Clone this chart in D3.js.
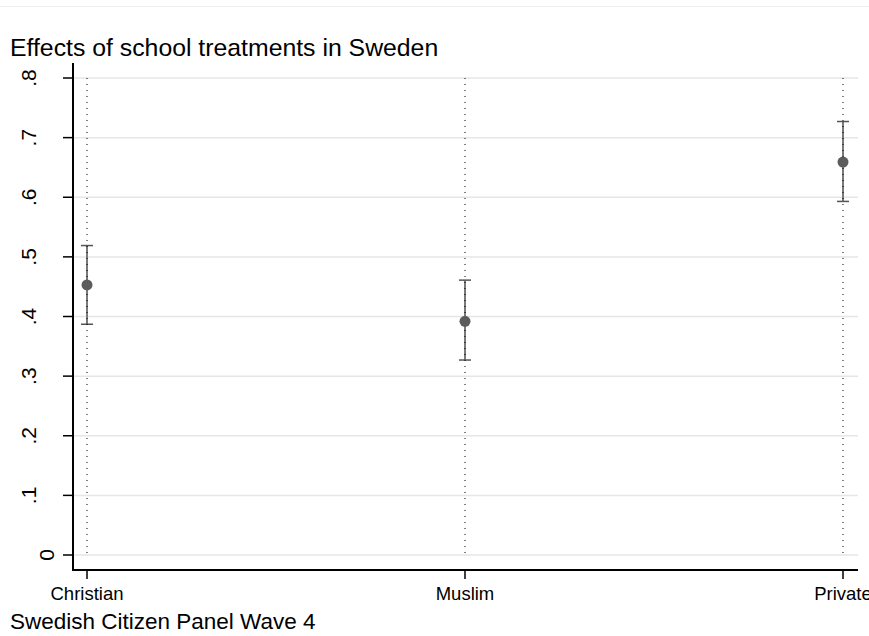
<!DOCTYPE html>
<html>
<head>
<meta charset="utf-8">
<script src="https://cdn.jsdelivr.net/npm/d3@7"></script>
<style>
  html, body { margin: 0; padding: 0; background: #ffffff; }
  svg { display: block; font-family: "Liberation Sans", Arial, Helvetica, sans-serif; }
</style>
</head>
<body>
<svg id="chart" width="869" height="636"></svg>
<script>
// Treatment groups and estimated effects with 95% confidence bounds
const categories = ["Christian", "Muslim", "Private"];
const estimates  = [0.453, 0.392, 0.659];
const lowerCI    = [0.387, 0.327, 0.593];
const upperCI    = [0.519, 0.461, 0.727];
const yTicks     = [0, 0.1, 0.2, 0.3, 0.4, 0.5, 0.6, 0.7, 0.8];
const yTickLabels = ["0", ".1", ".2", ".3", ".4", ".5", ".6", ".7", ".8"];

const titleText = "Effects of school treatments in Sweden";
const noteText  = "Swedish Citizen Panel Wave 4";

const svg = d3.select("#chart");
const W = 869, H = 636;

const plot = { left: 73, right: 858, top: 63, bottom: 570 };

const x = d3.scalePoint().domain(categories).range([87, 843]);
const y = d3.scaleLinear().domain([0, 0.8]).range([555, 78]);

// faint frame line at the top of the graph area
svg.append("line")
  .attr("x1", 0).attr("x2", W).attr("y1", 6.5).attr("y2", 6.5)
  .attr("stroke", "#eeeeee").attr("stroke-width", 1);

// title
svg.append("text")
  .attr("x", 10).attr("y", 56)
  .attr("font-size", 24.8).attr("fill", "#000")
  .text(titleText);

// horizontal grid lines
svg.append("g").selectAll("line")
  .data(yTicks)
  .join("line")
  .attr("x1", plot.left).attr("x2", plot.right)
  .attr("y1", d => y(d)).attr("y2", d => y(d))
  .attr("stroke", "#e6e6e6").attr("stroke-width", 1.5);

// y axis
const yAxis = svg.append("g");
yAxis.append("line")
  .attr("x1", plot.left).attr("x2", plot.left)
  .attr("y1", plot.top).attr("y2", plot.bottom + 1)
  .attr("stroke", "#000").attr("stroke-width", 2);
yAxis.selectAll("line.tick")
  .data(yTicks)
  .join("line")
  .attr("class", "tick")
  .attr("x1", plot.left - 10).attr("x2", plot.left)
  .attr("y1", d => y(d)).attr("y2", d => y(d))
  .attr("stroke", "#000").attr("stroke-width", 1.5);
yAxis.selectAll("text")
  .data(yTicks)
  .join("text")
  .attr("transform", (d, i) => {
    const bx = yTickLabels[i].startsWith(".") ? 35.5 : 53.5;
    return `translate(${bx},${y(d)}) rotate(-90)`;
  })
  .attr("text-anchor", "middle")
  .attr("font-size", 21)
  .attr("fill", "#000")
  .text((d, i) => yTickLabels[i]);

// x axis
const xAxis = svg.append("g");
xAxis.append("line")
  .attr("x1", plot.left - 1).attr("x2", plot.right)
  .attr("y1", plot.bottom).attr("y2", plot.bottom)
  .attr("stroke", "#000").attr("stroke-width", 2);
xAxis.selectAll("line.tick")
  .data(categories)
  .join("line")
  .attr("class", "tick")
  .attr("x1", d => x(d)).attr("x2", d => x(d))
  .attr("y1", plot.bottom).attr("y2", plot.bottom + 9)
  .attr("stroke", "#000").attr("stroke-width", 1.5);
xAxis.selectAll("text")
  .data(categories)
  .join("text")
  .attr("x", d => x(d)).attr("y", 600)
  .attr("text-anchor", "middle")
  .attr("font-size", 18.5)
  .attr("fill", "#000")
  .text(d => d);

// confidence intervals
const ci = svg.append("g");
categories.forEach((c, i) => {
  ci.append("line")
    .attr("x1", x(c)).attr("x2", x(c))
    .attr("y1", y(lowerCI[i])).attr("y2", y(upperCI[i]))
    .attr("stroke", "#7a7a7a").attr("stroke-width", 2);
  [lowerCI[i], upperCI[i]].forEach(v => {
    ci.append("line")
      .attr("x1", x(c) - 6).attr("x2", x(c) + 6)
      .attr("y1", y(v)).attr("y2", y(v))
      .attr("stroke", "#555555").attr("stroke-width", 1.5);
  });
});

// dotted reference lines at each group, drawn over the bars
svg.append("g").selectAll("line")
  .data(categories)
  .join("line")
  .attr("x1", d => x(d)).attr("x2", d => x(d))
  .attr("y1", y(0.8)).attr("y2", y(0))
  .attr("stroke", "#000").attr("stroke-width", 1)
  .attr("stroke-dasharray", "1,5");

// point estimates
svg.append("g").selectAll("circle")
  .data(categories)
  .join("circle")
  .attr("cx", d => x(d))
  .attr("cy", (d, i) => y(estimates[i]))
  .attr("r", 5.5)
  .attr("fill", "#5c5c5c");

// note
svg.append("text")
  .attr("x", 10).attr("y", 629)
  .attr("font-size", 22.5).attr("fill", "#000")
  .text(noteText);
</script>
</body>
</html>
